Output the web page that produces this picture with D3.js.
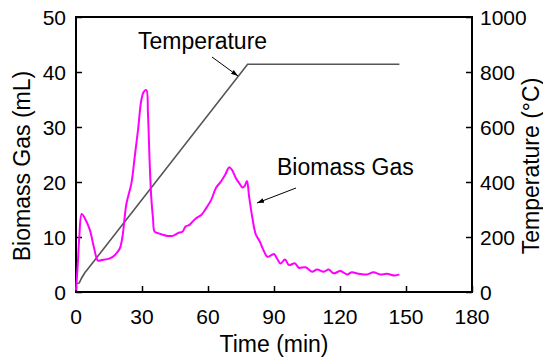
<!DOCTYPE html>
<html><head><meta charset="utf-8">
<script src="https://cdn.jsdelivr.net/npm/d3@7"></script>
<style>body{margin:0;background:#fff}svg{display:block}text{font-family:"Liberation Sans",Arial,sans-serif}</style>
</head><body><svg id="c" width="543" height="358"></svg>
<script>
const xTicks=[0,30,60,90,120,150,180];
const gasTicks=[0,10,20,30,40,50];
const tempTicks=[0,200,400,600,800,1000];
const gasTime=[0,0.8,1.5,2.6,4,6.3,8.1,10,11.6,15.4,17.6,19.9,21.1,22.9,25.2,26.7,28.2,29.7,30.8,32,32.7,33.5,34.2,35,35.7,37.2,39.5,41.7,44,46.3,48.5,49.8,51.6,53,54.6,56.9,59.1,61.4,63.6,65.9,67.8,69.7,70.9,72.7,74.2,75.7,76.7,77.7,78.7,80.2,81.7,83.5,85,87,88.8,90,91.5,93,95,96.8,99.5,101.3,104.3,107.3,109.6,112.6,114.9,117.1,120.2,123.2,125.4,128.4,132.2,135.2,138.3,141.3,145,147];
const gasValue=[0.3,5,10,14.2,13.4,11.3,8.2,5.7,5.8,6.1,6.7,7.9,10,16,19.8,24.6,29.5,34.9,36.4,36.7,32.5,23.4,17.3,13.4,11,10.7,10.4,10.2,10.2,10.7,11,11.9,12.2,12.8,13.4,14,15.2,16.7,18.9,20.1,21.3,22.7,22.2,20.7,19.8,19,19.3,20.2,17.3,13.4,10.5,9.2,7.8,6.4,6.7,6.9,6.0,5.2,5.9,4.9,5.2,4.4,4.5,3.7,4.1,3.7,4.1,3.4,3.8,3.2,3.6,3.3,3.2,3.6,3.2,3.3,3.0,3.2];
const tempTime=[0,1.5,2.5,4,6,78,147];
const tempValue=[30,33,50,70,90,828,828];

const svg=d3.select("#c");
const L=76,R=472,T=17,B=292;
const x=d3.scaleLinear().domain([0,180]).range([L,R]);
const yG=d3.scaleLinear().domain([0,50]).range([B,T]);
const yT=d3.scaleLinear().domain([0,1000]).range([B,T]);
const fs="21px", ft="23px";

const ax=svg.append("g").attr("transform",`translate(0,${B})`).call(d3.axisTop(x).tickValues(xTicks).tickSize(6).tickFormat(""));
const ay=svg.append("g").attr("transform",`translate(${L},0)`).call(d3.axisRight(yG).tickValues(gasTicks).tickSize(6).tickFormat(""));
const ar=svg.append("g").attr("transform",`translate(${R},0)`).call(d3.axisLeft(yT).tickValues(tempTicks).tickSize(6).tickFormat(""));
[ax,ay,ar].forEach(g=>{g.select(".domain").remove();g.selectAll("line").attr("stroke","#000").attr("stroke-width",1.5);});
svg.append("rect").attr("x",L).attr("y",T).attr("width",R-L).attr("height",B-T).attr("fill","none").attr("stroke","#000").attr("stroke-width",2);

svg.append("g").selectAll("text").data(xTicks).join("text").attr("x",d=>x(d)).attr("y",B+32).attr("text-anchor","middle").attr("font-size",fs).text(d=>d);
svg.append("g").selectAll("text").data(gasTicks).join("text").attr("x",L-10).attr("y",d=>yG(d)+8).attr("text-anchor","end").attr("font-size",fs).text(d=>d);
svg.append("g").selectAll("text").data(tempTicks).join("text").attr("x",R+8).attr("y",d=>yT(d)+8).attr("text-anchor","start").attr("font-size",fs).text(d=>d);

svg.append("text").attr("x",(L+R)/2).attr("y",352).attr("text-anchor","middle").attr("font-size",ft).text("Time (min)");
svg.append("text").attr("transform",`translate(30,166) rotate(-90)`).attr("text-anchor","middle").attr("font-size",ft).text("Biomass Gas (mL)");
svg.append("text").attr("transform",`translate(539,166) rotate(-90)`).attr("text-anchor","middle").attr("font-size",ft).text("Temperature (°C)");

const tempData=tempTime.map((t,i)=>[t,tempValue[i]]);
const gasData=gasTime.map((t,i)=>[t,gasValue[i]]);
svg.append("path").datum(tempData).attr("fill","none").attr("stroke","#555").attr("stroke-width",1.6)
  .attr("d",d3.line().x(d=>x(d[0])).y(d=>yT(d[1])));
svg.append("path").datum(gasData).attr("fill","none").attr("stroke","#ff00ff").attr("stroke-width",2)
  .attr("d",d3.line().x(d=>x(d[0])).y(d=>yG(d[1])).curve(d3.curveCatmullRom.alpha(0.5)));

const defs=svg.append("defs");
defs.append("marker").attr("id","ah").attr("viewBox","0 0 10 10").attr("refX",10).attr("refY",5).attr("markerWidth",7).attr("markerHeight",7).attr("orient","auto")
  .append("path").attr("d","M0,1.5L10,5L0,8.5Z").attr("fill","#000");
svg.append("text").attr("x",138).attr("y",49).attr("font-size",ft).text("Temperature");
svg.append("line").attr("x1",212).attr("y1",57).attr("x2",238).attr("y2",76).attr("stroke","#000").attr("stroke-width",1).attr("marker-end","url(#ah)");
svg.append("text").attr("x",277).attr("y",175).attr("font-size",ft).text("Biomass Gas");
svg.append("line").attr("x1",296).attr("y1",188).attr("x2",257).attr("y2",203).attr("stroke","#000").attr("stroke-width",1).attr("marker-end","url(#ah)");
</script></body></html>
